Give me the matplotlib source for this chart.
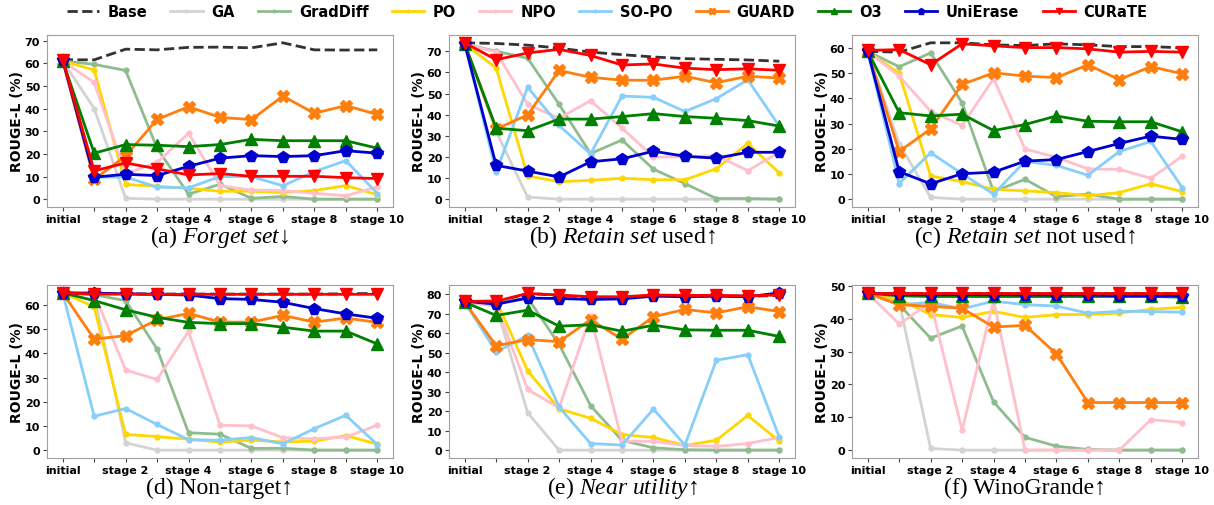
import matplotlib
matplotlib.use("Agg")
import matplotlib.pyplot as plt
import numpy as np

methods = ["Base", "GA", "GradDiff", "PO", "NPO", "SO-PO", "GUARD", "O3", "UniErase", "CURaTE"]
xlabels = ["initial", "", "stage 2", "", "stage 4", "", "stage 6", "", "stage 8", "", "stage 10"]

# (a) Forget set
forget_base     = [61.5, 61.5, 66.2, 65.9, 67.0, 67.1, 66.8, 69.0, 65.9, 65.8, 65.9]
forget_ga       = [61.0, 40.0, 0.4, 0, 0, 0, 0, 0, 0, 0, 0]
forget_graddiff = [61.0, 59.5, 56.8, 22.5, 2.2, 6.6, 0.4, 1.2, 0, 0, 0]
forget_po       = [61.0, 57.0, 6.5, 5.7, 4.8, 3.5, 3.5, 2.9, 3.8, 6.0, 2.0]
forget_npo      = [61.0, 51.5, 11.2, 16.2, 29.1, 6.0, 4.0, 3.8, 2.6, 1.5, 5.4]
forget_sopo     = [61.0, 9.7, 9.8, 5.3, 5.0, 10.0, 10.0, 5.9, 12.2, 17.0, 2.5]
forget_guard    = [61.0, 8.7, 19.1, 35.2, 40.8, 36.1, 35.1, 45.5, 37.9, 41.3, 37.4]
forget_o3       = [61.0, 20.3, 24.1, 23.8, 23.2, 24.1, 26.4, 25.8, 25.8, 25.8, 22.5]
forget_unierase = [61.5, 9.7, 11.0, 10.4, 14.5, 18.1, 19.2, 18.8, 19.2, 21.4, 20.3]
forget_curate   = [61.5, 12.5, 16.0, 13.4, 10.7, 11.3, 10.1, 10.1, 10.1, 9.5, 9.1]

# (b) Retain set used
ret_base     = [74.0, 73.7, 72.9, 71.5, 69.6, 68.4, 67.3, 66.5, 66.2, 65.9, 65.3]
ret_ga       = [73.5, 32.0, 1.0, 0, 0, 0, 0, 0, 0, 0, 0]
ret_graddiff = [73.5, 70.0, 66.7, 44.9, 21.6, 28.0, 14.2, 7.4, 0.3, 0.3, 0]
ret_po       = [73.5, 62.0, 11.0, 8.3, 8.9, 9.9, 9.2, 9.2, 14.4, 26.4, 12.4]
ret_npo      = [73.5, 69.6, 44.9, 38.3, 46.6, 33.6, 20.0, 20.0, 20.7, 13.5, 22.2]
ret_sopo     = [73.5, 12.8, 53.0, 34.9, 21.4, 48.8, 48.2, 41.5, 47.6, 56.5, 34.6]
ret_guard    = [73.5, 33.2, 39.9, 60.9, 57.7, 56.3, 56.3, 58.2, 55.1, 58.2, 57.3]
ret_o3       = [73.5, 33.6, 32.4, 37.9, 37.9, 39.1, 40.5, 39.1, 38.3, 37.2, 34.6]
ret_unierase = [73.5, 16.0, 13.3, 10.5, 17.7, 19.1, 22.7, 20.3, 19.4, 22.2, 22.2]
ret_curate   = [74.0, 66.0, 69.2, 70.9, 68.0, 63.5, 64.0, 62.0, 61.3, 61.7, 61.0]

# (c) Retain set not used
rnu_base     = [58.6, 58.3, 62.0, 62.0, 61.2, 60.9, 61.6, 61.2, 60.5, 60.5, 60.0]
rnu_ga       = [58.6, 22.0, 0.7, 0, 0, 0, 0, 0, 0, 0, 0]
rnu_graddiff = [58.6, 52.5, 58.0, 38.2, 3.0, 7.9, 1.0, 2.0, 0, 0, 0]
rnu_po       = [58.6, 49.9, 9.2, 7.0, 3.9, 3.3, 2.6, 1.4, 2.6, 6.1, 3.0]
rnu_npo      = [58.6, 48.8, 34.9, 29.2, 47.8, 19.9, 16.6, 12.0, 11.8, 8.3, 17.0]
rnu_sopo     = [58.6, 6.2, 18.4, 10.1, 2.0, 15.0, 13.4, 9.5, 18.9, 22.9, 4.6]
rnu_guard    = [58.6, 18.9, 27.9, 45.5, 50.1, 48.8, 48.2, 53.3, 47.4, 52.6, 49.7]
rnu_o3       = [58.6, 34.3, 33.0, 33.7, 27.2, 29.6, 33.0, 30.9, 30.7, 30.7, 26.7]
rnu_unierase = [58.6, 10.9, 6.1, 10.1, 10.7, 15.1, 15.7, 18.9, 22.1, 25.0, 23.7]
rnu_curate   = [59.0, 59.3, 53.3, 61.6, 60.8, 60.1, 60.1, 59.6, 58.3, 58.6, 58.3]

# (d) Non-target
nt_base     = [65.0, 64.6, 64.6, 64.5, 64.5, 64.5, 64.5, 64.5, 64.5, 64.6, 64.8]
nt_ga       = [65.0, 64.0, 3.0, 0, 0, 0, 0, 0, 0, 0, 0]
nt_graddiff = [65.0, 64.2, 61.8, 41.8, 7.2, 6.6, 0.7, 0.8, 0, 0, 0]
nt_po       = [65.0, 59.2, 6.5, 5.6, 4.5, 3.3, 4.1, 3.4, 3.7, 6.0, 2.5]
nt_npo      = [65.0, 64.6, 33.1, 29.2, 49.1, 10.3, 10.0, 5.1, 4.7, 5.4, 10.3]
nt_sopo     = [65.0, 14.0, 17.2, 10.6, 4.3, 4.1, 5.2, 2.6, 8.9, 14.4, 2.3]
nt_guard    = [65.0, 45.9, 47.3, 53.9, 56.5, 52.9, 52.9, 55.7, 52.9, 54.6, 52.8]
nt_o3       = [65.0, 61.8, 58.0, 54.9, 52.8, 52.3, 52.3, 50.8, 49.2, 49.2, 43.9]
nt_unierase = [65.0, 64.9, 64.6, 64.4, 64.1, 62.6, 62.3, 61.1, 58.5, 56.3, 54.5]
nt_curate   = [65.0, 64.5, 64.5, 64.4, 64.4, 64.4, 64.4, 64.4, 64.4, 64.4, 64.4]

# (e) Near utility
nu_base     = [76.0, 76.0, 80.5, 79.5, 78.5, 78.5, 79.5, 79.3, 79.3, 79.0, 79.5]
nu_ga       = [76.0, 74.0, 19.2, 0, 0, 0, 0, 0, 0, 0, 0]
nu_graddiff = [76.0, 75.7, 78.3, 54.3, 22.9, 5.0, 1.2, 0.2, 0, 0, 0]
nu_po       = [76.0, 77.0, 40.8, 21.2, 16.4, 8.0, 6.5, 2.4, 5.1, 17.8, 4.6]
nu_npo      = [76.0, 74.8, 31.2, 21.7, 69.0, 4.6, 4.5, 2.4, 1.9, 3.4, 6.5]
nu_sopo     = [76.0, 50.5, 58.9, 22.1, 3.4, 2.6, 21.1, 2.6, 46.2, 49.0, 6.7]
nu_guard    = [76.0, 53.6, 56.8, 55.7, 67.0, 57.0, 68.5, 72.3, 70.5, 73.7, 71.2]
nu_o3       = [76.0, 69.2, 71.9, 63.7, 64.4, 61.1, 64.2, 61.8, 61.6, 61.6, 58.4]
nu_unierase = [76.5, 75.0, 78.1, 77.9, 77.4, 77.7, 79.1, 78.8, 79.1, 78.8, 80.8]
nu_curate   = [76.5, 76.5, 80.5, 79.7, 78.8, 78.8, 79.7, 79.5, 79.5, 79.3, 79.7]

# (f) WinoGrande
wg_base     = [47.9, 47.9, 47.9, 47.9, 47.9, 47.9, 47.9, 47.9, 47.9, 47.9, 47.9]
wg_ga       = [47.8, 45.2, 0.5, 0, 0, 0, 0, 0, 0, 0, 0]
wg_graddiff = [47.8, 44.3, 34.1, 37.8, 14.7, 3.9, 1.2, 0.2, 0, 0, 0]
wg_po       = [47.8, 45.9, 41.3, 40.4, 42.3, 40.4, 41.3, 41.3, 41.7, 42.9, 43.5]
wg_npo      = [47.8, 38.4, 45.0, 6.0, 45.7, 0, 0, 0, 0, 9.3, 8.4]
wg_sopo     = [47.8, 44.3, 45.0, 43.0, 45.4, 44.3, 43.9, 41.7, 42.3, 42.2, 42.0]
wg_guard    = [47.8, 44.3, 43.8, 43.2, 37.5, 38.0, 29.3, 14.5, 14.5, 14.5, 14.5]
wg_o3       = [47.8, 47.0, 46.8, 46.8, 46.8, 46.8, 46.8, 46.8, 46.8, 46.8, 46.6]
wg_unierase = [47.8, 47.5, 47.4, 47.4, 47.4, 47.3, 47.3, 47.3, 47.0, 47.0, 47.0]
wg_curate   = [47.9, 47.9, 47.9, 47.9, 47.9, 47.9, 47.9, 47.9, 47.9, 47.9, 47.9]

panels = [
    ([forget_base, forget_ga, forget_graddiff, forget_po, forget_npo, forget_sopo,
      forget_guard, forget_o3, forget_unierase, forget_curate], [0, 10, 20, 30, 40, 50, 60, 70]),
    ([ret_base, ret_ga, ret_graddiff, ret_po, ret_npo, ret_sopo,
      ret_guard, ret_o3, ret_unierase, ret_curate], [0, 10, 20, 30, 40, 50, 60, 70]),
    ([rnu_base, rnu_ga, rnu_graddiff, rnu_po, rnu_npo, rnu_sopo,
      rnu_guard, rnu_o3, rnu_unierase, rnu_curate], [0, 10, 20, 30, 40, 50, 60]),
    ([nt_base, nt_ga, nt_graddiff, nt_po, nt_npo, nt_sopo,
      nt_guard, nt_o3, nt_unierase, nt_curate], [0, 10, 20, 30, 40, 50, 60]),
    ([nu_base, nu_ga, nu_graddiff, nu_po, nu_npo, nu_sopo,
      nu_guard, nu_o3, nu_unierase, nu_curate], [0, 10, 20, 30, 40, 50, 60, 70, 80]),
    ([wg_base, wg_ga, wg_graddiff, wg_po, wg_npo, wg_sopo,
      wg_guard, wg_o3, wg_unierase, wg_curate], [0, 10, 20, 30, 40, 50]),
]

captions = [
    r"(a) $\mathit{Forget\ set}$↓",
    r"(b) $\mathit{Retain\ set}$ used↑",
    r"(c) $\mathit{Retain\ set}$ not used↑",
    r"(d) Non-target↑",
    r"(e) $\mathit{Near\ utility}$↑",
    r"(f) WinoGrande↑",
]

styles = {
    "Base":     dict(color="#333333", ls="--", marker=None, ms=0, lw=2.0),
    "GA":       dict(color="#d3d3d3", ls="-", marker="o", ms=3.5, lw=2.0),
    "GradDiff": dict(color="#8fbc8f", ls="-", marker="o", ms=3.5, lw=2.0),
    "PO":       dict(color="#ffd700", ls="-", marker="o", ms=3.5, lw=2.0),
    "NPO":      dict(color="#ffc0cb", ls="-", marker="o", ms=3.5, lw=2.0),
    "SO-PO":    dict(color="#87cefa", ls="-", marker="o", ms=3.5, lw=2.0),
    "GUARD":    dict(color="#ff7f0e", ls="-", marker="X", ms=8, lw=2.0),
    "O3":       dict(color="#008000", ls="-", marker="^", ms=8, lw=2.0),
    "UniErase": dict(color="#0000cd", ls="-", marker="p", ms=8.5, lw=2.0),
    "CURaTE":   dict(color="#ff0000", ls="-", marker="v", ms=8.5, lw=2.0),
}

plt.rcParams["mathtext.fontset"] = "custom"
plt.rcParams["mathtext.rm"] = "Liberation Serif"
plt.rcParams["mathtext.it"] = "Liberation Serif:italic"

W, H = 1214, 506
fig = plt.figure(figsize=(W / 100, H / 100), dpi=100)

lefts = [47, 449, 852]
tops = [36, 286]
bottoms = [208, 459]
aw = 346

x = np.arange(len(xlabels))
handles = []
for i, (series, yticks) in enumerate(panels):
    r, c = divmod(i, 3)
    ax = fig.add_axes([lefts[c] / W, 1 - bottoms[r] / H, aw / W, (bottoms[r] - tops[r]) / H])
    for name, vals in zip(methods, series):
        st = styles[name]
        ln, = ax.plot(x, vals, color=st["color"], ls=st["ls"], lw=st["lw"],
                      marker=st["marker"], ms=st["ms"], label=name, zorder=3)
        if i == 0:
            handles.append(ln)
    ax.set_xticks(x)
    ax.set_xticklabels(xlabels, fontsize=8, fontweight="bold")
    ax.set_yticks(yticks)
    ax.set_yticklabels([str(t) for t in yticks], fontsize=8, fontweight="bold")
    ax.set_xlim(-0.5, 10.5)
    ax.set_ylabel("ROUGE-L (%)", fontsize=10, fontweight="bold", labelpad=0.5)
    for sp in ax.spines.values():
        sp.set_color("#a0a0a0")
    ax.tick_params(axis="both", length=3, width=0.8, color="#444444", pad=2)
    ax.annotate(captions[i], xy=(0.5, 0), xycoords="axes fraction",
                xytext=(0, -29.5 * 0.72), textcoords="offset points",
                ha="center", va="center", fontsize=17,
                family=["Liberation Serif", "DejaVu Serif"])

fig.legend(handles, methods, loc="center", bbox_to_anchor=(0.5, 0.976), ncol=10,
           frameon=False, prop=dict(size=10.5, weight="bold"), markerscale=0.55,
           handlelength=2.2, columnspacing=1.6, handletextpad=0.6)

fig.savefig("out.png", dpi=100)
